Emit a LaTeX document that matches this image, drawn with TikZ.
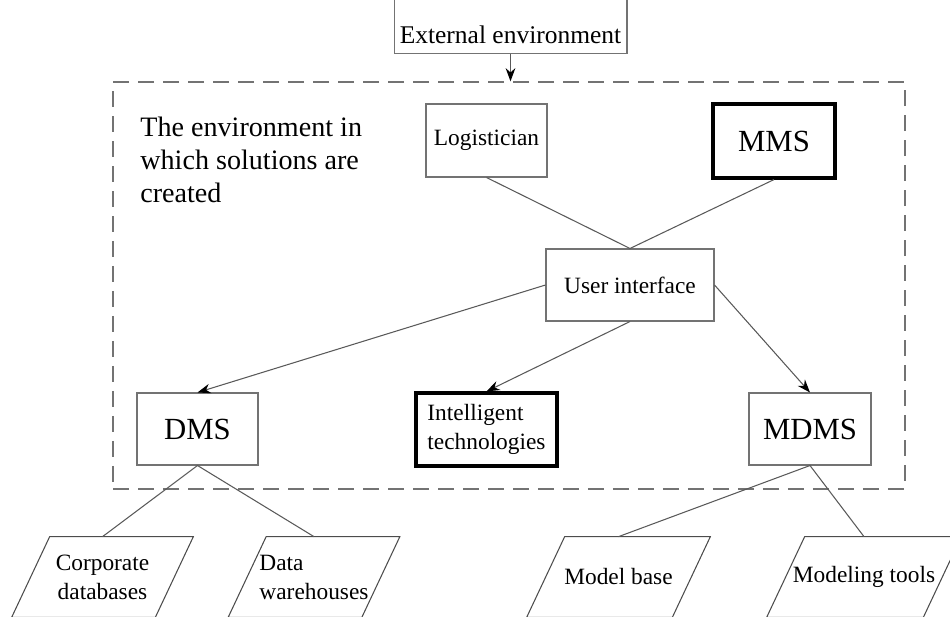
\documentclass[tikz,border=0pt]{standalone}
\usepackage{fontspec}
\setmainfont{Liberation Serif}
\usetikzlibrary{arrows.meta}

\begin{document}
\begin{tikzpicture}[x=0.02cm, y=-0.02cm,
  >={Stealth[length=7.5pt,width=5.5pt,color=black]},
  box/.style={draw=black!55, line width=0.6pt, inner sep=0pt, align=center,
    font=\fontsize{13.3}{16.5}\selectfont},
  bigbox/.style={box, font=\fontsize{17.5}{21}\selectfont},
  heavy/.style={draw=black, line width=1.8pt},
  store/.style={inner sep=0pt, align=center, minimum height=1.6cm,
    font=\fontsize{13.3}{16.5}\selectfont},
  link/.style={draw=black!65, line width=0.6pt}]
  \useasboundingbox (0,0) rectangle (950,617);
  \clip (0,0) rectangle (950,617);

  % Environment in which solutions are created
  \node[draw=black!55, line width=0.8pt, dash pattern=on 0.32cm off 0.18cm,
    minimum width=15.84cm, minimum height=8.14cm] (frame) at (509,285.5) {};
  \node[anchor=west, inner sep=0pt, align=left,
    font=\fontsize{16}{18.8}\selectfont] (envtext) at (140,160)
    {The environment in\\which solutions are\\created};

  % External environment (top edge lies above the page)
  \node[box, font=\fontsize{14.5}{17}\selectfont, anchor=south,
    minimum width=4.66cm, text height=1.2cm, text depth=0.2cm] (ext) at (510.5,54)
    {External environment};

  % Boxes
  \node[box, minimum width=2.42cm, minimum height=1.46cm] (logist) at (486.5,140.5) {Logistician};
  \node[bigbox, heavy, minimum width=2.44cm, minimum height=1.48cm] (mms) at (774,141) {MMS};
  \node[box, minimum width=3.36cm, minimum height=1.44cm] (ui) at (630,285) {User interface};
  \node[bigbox, minimum width=2.42cm, minimum height=1.44cm] (dms) at (197.5,429) {DMS};
  \node[box, heavy, align=left, minimum width=2.82cm, minimum height=1.46cm] (intel) at (486.5,429.5)
    {Intelligent\\technologies};
  \node[bigbox, minimum width=2.44cm, minimum height=1.44cm] (mdms) at (810,429) {MDMS};

  % Data and model stores (parallelograms slanted by 38px)
  \node[store, minimum width=2.86cm] (corpdb) at (102.5,577) {Corporate\\databases};
  \node[store, align=left, minimum width=2.66cm] (wareh) at (314,577) {Data\\warehouses};
  \node[store, minimum width=2.9cm] (modbase) at (618.5,577) {Model base};
  \node[store, minimum width=3.12cm] (modtools) at (864,577) {Modeling tools};
  \foreach \s in {corpdb,wareh,modbase,modtools}
    \draw[link, draw=black!70] ([xshift=0.38cm]\s.north west) -- ([xshift=0.38cm]\s.north east)
      -- ([xshift=-0.38cm]\s.south east) -- ([xshift=-0.38cm]\s.south west) -- cycle;

  % Connectors
  \draw[link, ->] (ext.south) -- (ext.south |- frame.north);
  \draw[link] (logist.south) -- (ui.north) -- (mms.south);
  \draw[link, ->] (ui.west) -- (dms.north);
  \draw[link, ->] (ui.south) -- (intel.north);
  \draw[link, ->] (ui.east) -- (mdms.north);
  \draw[link] (corpdb.north) -- (dms.south) -- (wareh.north);
  \draw[link] (modbase.north) -- (mdms.south) -- (modtools.north);
\end{tikzpicture}
\end{document}
